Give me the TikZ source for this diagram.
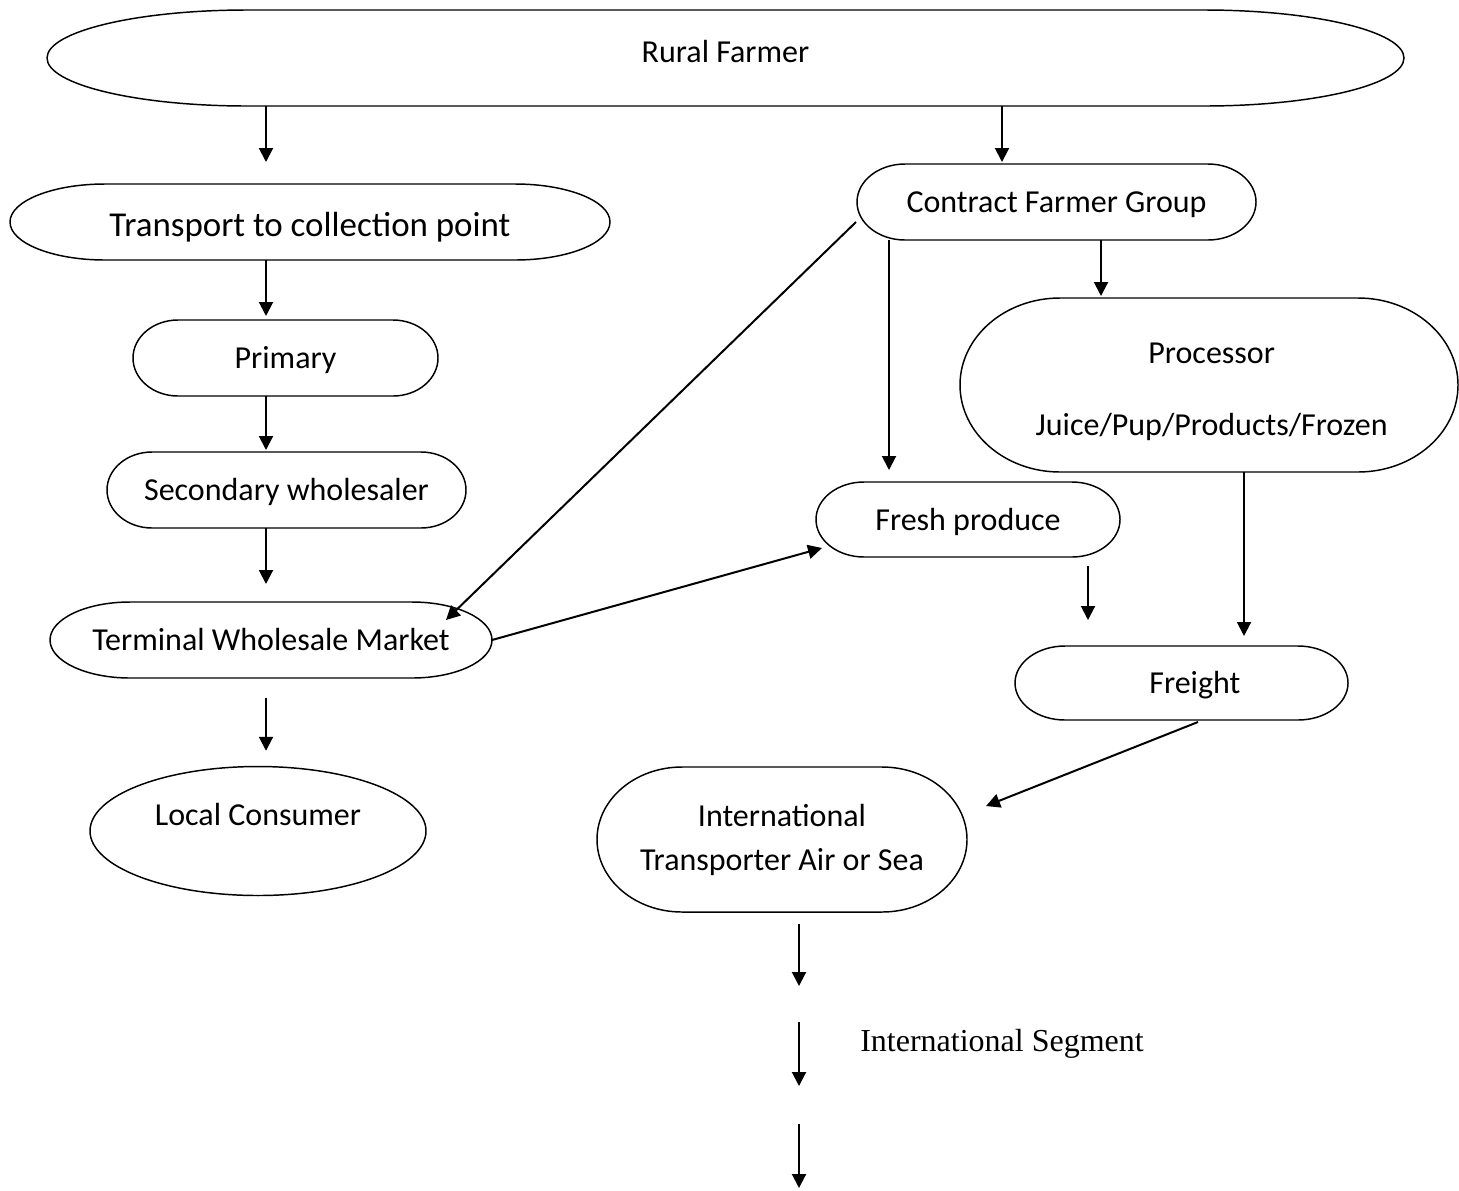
\documentclass[tikz,border=0pt]{standalone}
\usepackage{fontspec}
\setmainfont{Carlito}
\newfontfamily\timesfont{Liberation Serif}
\usetikzlibrary{arrows.meta,calc,shapes.geometric}

% options, name, x1, y1, x2, y2, rx, ry, text
\newcommand\pillbox[9]{%
  \node[boxnode, #1, minimum width={(#5-#3)*0.75pt}, minimum height={(#6-#4)*0.75pt}] (#2) at ({(#3+#5)/2},{(#4+#6)/2}) {#9};
  \draw[outline] ({#3+#7},#4) -- ({#5-#7},#4)
    .. controls ({#5-0.4477*#7},#4) and (#5,{#4+0.4477*#8}) .. (#5,{#4+#8})
    -- (#5,{#6-#8})
    .. controls (#5,{#6-0.4477*#8}) and ({#5-0.4477*#7},#6) .. ({#5-#7},#6)
    -- ({#3+#7},#6)
    .. controls ({#3+0.4477*#7},#6) and (#3,{#6-0.4477*#8}) .. (#3,{#6-#8})
    -- (#3,{#4+#8})
    .. controls (#3,{#4+0.4477*#8}) and ({#3+0.4477*#7},#4) .. cycle;
}
\newcommand\lowerln[1]{\raisebox{-5.25pt}[\height][\depth]{#1}}

\tikzset{
  boxnode/.style={inner sep=0pt, outer sep=0pt, align=center, font=\fontsize{24}{29}\selectfont},
  oneline/.style={align=none, text height=15.8pt, text depth=0pt},
  outline/.style={line width=1.1pt, black},
  arr/.style={line width=1.5pt, -{Triangle[length=10.5pt,width=10.5pt]}},
}

\begin{document}
\begin{tikzpicture}[x=0.75pt, y=-0.75pt]
\useasboundingbox (0,0) rectangle (1459,1190);

\pillbox{oneline}{rf}{47}{10}{1404}{106}{200}{48}{\raisebox{4.5pt}{Rural Farmer}}
\pillbox{oneline, font=\fontsize{26.2}{31}\selectfont}{tr}{10}{184}{610}{260}{95}{38}{\raisebox{-2.6pt}{Transport to collection point}}
\pillbox{oneline}{pr}{133}{320}{438}{396}{45}{38}{Primary}
\pillbox{oneline}{sw}{107}{452}{466}{528}{45}{38}{Secondary wholesaler}
\pillbox{oneline}{tw}{50}{602}{492}{678}{80}{38}{Terminal Wholesale Market}
\pillbox{oneline}{cfg}{857}{164}{1256}{240}{48}{38}{Contract Farmer Group}
\pillbox{}{proc}{960}{298}{1458}{472}{100}{87}{\lowerln{\hspace*{4pt}Processor}\\[25pt]\lowerln{\hspace*{4pt}Juice/Pup/Products/Frozen}}
\pillbox{oneline}{fp}{816}{482}{1120}{557}{48}{37.5}{Fresh produce}
\pillbox{oneline}{fr}{1015}{646}{1348}{720}{50}{37}{\hspace*{20pt}Freight}
\pillbox{}{it}{597}{767}{967}{912}{85}{72.5}{International\\[4pt]Transporter Air or Sea}

\node[ellipse, draw, line width=1.1pt, minimum width=336*0.75pt, minimum height=129*0.75pt, inner sep=0pt] (lc) at (258,831) {};
\node[boxnode, oneline] (lct) at (258,815) {Local Consumer};

\node[anchor=west, inner sep=0pt, font=\timesfont\fontsize{24}{28}\selectfont] (seg) at (860,1044) {International Segment};

\coordinate (s1) at (799,1022);
\coordinate (s2) at (799,1124);

% left chain
\draw[arr] (rf.south -| 266,0) -- ($(tr.north -| 266,0)+(0,-22)$);
\draw[arr] (tr.south -| 266,0) -- ($(pr.north -| 266,0)+(0,-4)$);
\draw[arr] (pr.south -| 266,0) -- ($(sw.north -| 266,0)+(0,-2)$);
\draw[arr] (sw.south -| 266,0) -- ($(tw.north -| 266,0)+(0,-18)$);
\draw[arr] ($(tw.south -| 266,0)+(0,20)$) -- ($(lc.north -| 266,0)+(0,-15)$);

% right side
\draw[arr] (rf.south -| 1002,0) -- ($(cfg.north -| 1002,0)+(0,-2)$);
\draw[arr] ($(cfg.west)+(-1,20)$) -- ($(tw.north east)+(-46,18)$);
\draw[arr] (cfg.south -| 889,0) -- ($(fp.north -| 889,0)+(0,-12)$);
\draw[arr] (cfg.south -| 1101,0) -- ($(proc.north -| 1101,0)+(0,-2)$);
\draw[arr] (tw.east) -- ($(fp.south west)+(6,-9)$);
\draw[arr] ($(fp.south -| 1088,0)+(0,9)$) -- ($(fr.north -| 1088,0)+(0,-26)$);
\draw[arr] (proc.south -| 1244,0) -- ($(fr.north -| 1244,0)+(0,-10)$);
\draw[arr] ($(fr.south -| 1198,0)+(0,2)$) -- ($(it.east)+(19,-33.5)$);

% bottom chain
\draw[arr] ($(it.south -| 799,0)+(0,12)$) -- ++(0,62);
\draw[arr] (s1) -- ++(0,64);
\draw[arr] (s2) -- ++(0,64);
\end{tikzpicture}
\end{document}
